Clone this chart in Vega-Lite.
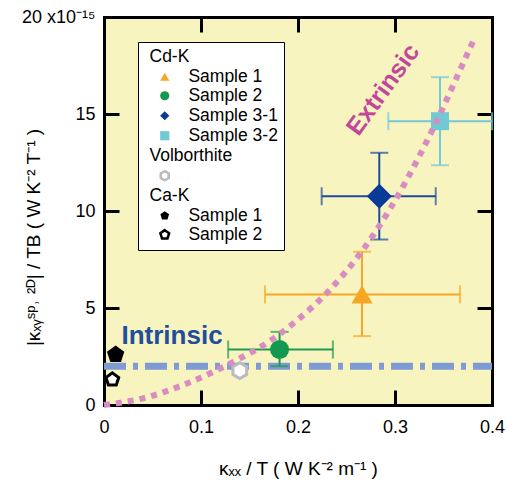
{
  "$schema": "https://vega.github.io/schema/vega-lite/v6.json",
  "width": 388,
  "height": 388,
  "autosize": "none",
  "padding": {"left": 104, "top": 17, "right": 14, "bottom": 83},
  "background": "white",
  "datasets": {
    "pts": [
      {"key": "c1", "x": 0.266, "y": 5.7, "xlo": 0.166, "xhi": 0.367, "ylo": 3.55, "yhi": 7.9},
      {"key": "c2", "x": 0.181, "y": 2.86, "xlo": 0.128, "xhi": 0.236, "ylo": 2.0, "yhi": 3.77},
      {"key": "c31", "x": 0.2838, "y": 10.76, "xlo": 0.2244, "xhi": 0.342, "ylo": 8.53, "yhi": 13.0},
      {"key": "c32", "x": 0.3464, "y": 14.63, "xlo": 0.2931, "xhi": 0.4, "ylo": 12.36, "yhi": 16.9},
      {"key": "v", "x": 0.140, "y": 1.77},
      {"key": "k1", "x": 0.012, "y": 2.6},
      {"key": "k2", "x": 0.0086, "y": 1.31}
    ],
    "curve": [
      {"x": 0.0, "y": 0.0},
      {"x": 0.042, "y": 0.37},
      {"x": 0.08, "y": 1.0},
      {"x": 0.109, "y": 1.62},
      {"x": 0.14, "y": 2.4},
      {"x": 0.168, "y": 3.2},
      {"x": 0.195, "y": 4.2},
      {"x": 0.233, "y": 5.95},
      {"x": 0.264, "y": 7.8},
      {"x": 0.2948, "y": 10.1},
      {"x": 0.3258, "y": 12.9},
      {"x": 0.3464, "y": 15.0},
      {"x": 0.3773, "y": 18.4},
      {"x": 0.381, "y": 18.8}
    ],
    "intr": [{"x": 0, "x2": 0.4, "y": 2.0}],
    "txt1": [{"label": "Intrinsic", "x": 0.018, "y": 3.15}],
    "txt2": [{"label": "Extrinsic", "x": 0.2876, "y": 16.26}]
  },
  "layer": [
    {
      "data": {"name": "intr"},
      "mark": {"type": "rule", "color": "#7f9bd3", "strokeWidth": 7, "strokeDash": [22, 7, 5, 7]},
      "encoding": {
        "x": {"field": "x", "type": "quantitative", "scale": {"domain": [0, 0.4], "nice": false, "zero": false},
          "axis": {"orient": "bottom", "values": [0, 0.1, 0.2, 0.3, 0.4], "labelExpr": "datum.value == 0 ? '0' : format(datum.value, '.1f')",
            "title": "κₓₓ / T    (  W K⁻² m⁻¹  )", "titleFontSize": 19, "labelPadding": 28, "titleY": 63, "titleBaseline": "middle"}},
        "x2": {"field": "x2"},
        "y": {"field": "y", "type": "quantitative", "scale": {"domain": [0, 20], "nice": false, "zero": false},
          "axis": {"orient": "left", "values": [0, 5, 10, 15, 20], "labelExpr": "datum.value == 20 ? '20 x10⁻¹⁵' : datum.label",
            "title": "|κₓᵧˢᵖ˒ ²ᴰ| / TB    (  W K⁻² T⁻¹  )", "titleFontSize": 19, "labelPadding": 24, "titleX": -71, "titleY": 220, "titleBaseline": "middle", "titleAlign": "center", "titleAngle": 270}}
      }
    },
    {
      "data": {"name": "pts"},
      "encoding": {
        "color": {"field": "key", "type": "nominal", "legend": null, "scale": {"domain": ["c1", "c2", "c31", "c32"], "range": ["#f6a623", "#1e9a50", "#1d4c9c", "#76c8d8"]}}
      },
      "layer": [
        {
          "mark": {"type": "rule", "strokeWidth": 2},
          "encoding": {
            "x": {"field": "xlo", "type": "quantitative", "axis": null},
            "x2": {"field": "xhi"},
            "y": {"field": "y", "type": "quantitative", "axis": null}
          }
        },
        {
          "mark": {"type": "rule", "strokeWidth": 2},
          "encoding": {
            "x": {"field": "x", "type": "quantitative", "axis": null},
            "y": {"field": "ylo", "type": "quantitative", "axis": null},
            "y2": {"field": "yhi"}
          }
        },
        {
          "mark": {"type": "tick", "orient": "vertical", "size": 18, "thickness": 2},
          "encoding": {
            "x": {"field": "xlo", "type": "quantitative", "axis": null},
            "y": {"field": "y", "type": "quantitative", "axis": null}
          }
        },
        {
          "mark": {"type": "tick", "orient": "vertical", "size": 18, "thickness": 2},
          "encoding": {
            "x": {"field": "xhi", "type": "quantitative", "axis": null},
            "y": {"field": "y", "type": "quantitative", "axis": null}
          }
        },
        {
          "mark": {"type": "tick", "orient": "horizontal", "size": 18, "thickness": 2},
          "encoding": {
            "x": {"field": "x", "type": "quantitative", "axis": null},
            "y": {"field": "ylo", "type": "quantitative", "axis": null}
          }
        },
        {
          "mark": {"type": "tick", "orient": "horizontal", "size": 18, "thickness": 2},
          "encoding": {
            "x": {"field": "x", "type": "quantitative", "axis": null},
            "y": {"field": "yhi", "type": "quantitative", "axis": null}
          }
        }
      ]
    },
    {
      "data": {"name": "pts"},
      "encoding": {
        "x": {"field": "x", "type": "quantitative", "axis": null},
        "y": {"field": "y", "type": "quantitative", "axis": null},
        "shape": {"field": "key", "type": "nominal",
          "scale": {"domain": ["h1", "c1", "c2", "c31", "c32", "h2", "v", "h3", "k1", "k2"],
            "range": ["circle", "triangle-up", "circle", "diamond", "square", "circle", "M0,-1L0.866,-0.5L0.866,0.5L0,1L-0.866,0.5L-0.866,-0.5Z", "circle", "M0,-1L0.951,-0.309L0.588,0.809L-0.588,0.809L-0.951,-0.309Z", "M0,-1L0.951,-0.309L0.588,0.809L-0.588,0.809L-0.951,-0.309Z"]},
          "legend": {"orient": "none", "legendX": 34, "legendY": 25, "title": null,
            "labelExpr": "datum.value == 'h1' ? 'Cd-K' : datum.value == 'c1' ? '\u200b\u00a0\u00a0\u00a0\u00a0\u00a0\u00a0\u00a0\u00a0Sample 1' : datum.value == 'c2' ? '\u200b\u00a0\u00a0\u00a0\u00a0\u00a0\u00a0\u00a0\u00a0Sample 2' : datum.value == 'c31' ? '\u200b\u00a0\u00a0\u00a0\u00a0\u00a0\u00a0\u00a0\u00a0Sample 3-1' : datum.value == 'c32' ? '\u200b\u00a0\u00a0\u00a0\u00a0\u00a0\u00a0\u00a0\u00a0Sample 3-2' : datum.value == 'h2' ? 'Volborthite' : datum.value == 'h3' ? 'Ca-K' : datum.value == 'k1' ? '\u200b\u00a0\u00a0\u00a0\u00a0\u00a0\u00a0\u00a0\u00a0Sample 1' : datum.value == 'k2' ? '\u200b\u00a0\u00a0\u00a0\u00a0\u00a0\u00a0\u00a0\u00a0Sample 2' : ''"}},
        "fill": {"field": "key", "type": "nominal",
          "scale": {"domain": ["h1", "c1", "c2", "c31", "c32", "h2", "v", "h3", "k1", "k2"],
            "range": ["transparent", "#f6a623", "#119a4f", "#073b97", "#72c9d6", "transparent", "white", "transparent", "black", "white"]},
          "legend": {"orient": "none", "legendX": 34, "legendY": 25, "title": null,
            "labelExpr": "datum.value == 'h1' ? 'Cd-K' : datum.value == 'c1' ? '\u200b\u00a0\u00a0\u00a0\u00a0\u00a0\u00a0\u00a0\u00a0Sample 1' : datum.value == 'c2' ? '\u200b\u00a0\u00a0\u00a0\u00a0\u00a0\u00a0\u00a0\u00a0Sample 2' : datum.value == 'c31' ? '\u200b\u00a0\u00a0\u00a0\u00a0\u00a0\u00a0\u00a0\u00a0Sample 3-1' : datum.value == 'c32' ? '\u200b\u00a0\u00a0\u00a0\u00a0\u00a0\u00a0\u00a0\u00a0Sample 3-2' : datum.value == 'h2' ? 'Volborthite' : datum.value == 'h3' ? 'Ca-K' : datum.value == 'k1' ? '\u200b\u00a0\u00a0\u00a0\u00a0\u00a0\u00a0\u00a0\u00a0Sample 1' : datum.value == 'k2' ? '\u200b\u00a0\u00a0\u00a0\u00a0\u00a0\u00a0\u00a0\u00a0Sample 2' : ''"}},
        "stroke": {"field": "key", "type": "nominal",
          "scale": {"domain": ["h1", "c1", "c2", "c31", "c32", "h2", "v", "h3", "k1", "k2"],
            "range": ["transparent", "transparent", "transparent", "transparent", "transparent", "transparent", "#bbbbbb", "transparent", "transparent", "black"]},
          "legend": {"orient": "none", "legendX": 34, "legendY": 25, "title": null,
            "labelExpr": "datum.value == 'h1' ? 'Cd-K' : datum.value == 'c1' ? '\u200b\u00a0\u00a0\u00a0\u00a0\u00a0\u00a0\u00a0\u00a0Sample 1' : datum.value == 'c2' ? '\u200b\u00a0\u00a0\u00a0\u00a0\u00a0\u00a0\u00a0\u00a0Sample 2' : datum.value == 'c31' ? '\u200b\u00a0\u00a0\u00a0\u00a0\u00a0\u00a0\u00a0\u00a0Sample 3-1' : datum.value == 'c32' ? '\u200b\u00a0\u00a0\u00a0\u00a0\u00a0\u00a0\u00a0\u00a0Sample 3-2' : datum.value == 'h2' ? 'Volborthite' : datum.value == 'h3' ? 'Ca-K' : datum.value == 'k1' ? '\u200b\u00a0\u00a0\u00a0\u00a0\u00a0\u00a0\u00a0\u00a0Sample 1' : datum.value == 'k2' ? '\u200b\u00a0\u00a0\u00a0\u00a0\u00a0\u00a0\u00a0\u00a0Sample 2' : ''"}}
      },
      "layer": [
        {"transform": [{"filter": "datum.key == 'c1'"}], "mark": {"type": "point", "filled": false, "opacity": 1, "strokeWidth": 3, "size": 441}},
        {"transform": [{"filter": "datum.key == 'c2'"}], "mark": {"type": "point", "filled": false, "opacity": 1, "strokeWidth": 3, "size": 361}},
        {"transform": [{"filter": "datum.key == 'c31'"}], "mark": {"type": "point", "filled": false, "opacity": 1, "strokeWidth": 3, "size": 625}},
        {"transform": [{"filter": "datum.key == 'c32'"}], "mark": {"type": "point", "filled": false, "opacity": 1, "strokeWidth": 3, "size": 324}},
        {"transform": [{"filter": "datum.key == 'v'"}], "mark": {"type": "point", "filled": false, "opacity": 1, "strokeWidth": 3, "size": 250}},
        {"transform": [{"filter": "datum.key == 'k1'"}], "mark": {"type": "point", "filled": false, "opacity": 1, "strokeWidth": 3, "size": 331}},
        {"transform": [{"filter": "datum.key == 'k2'"}], "mark": {"type": "point", "filled": false, "opacity": 1, "strokeWidth": 3, "size": 179}}
      ]
    },
    {
      "data": {"name": "curve"},
      "mark": {"type": "line", "color": "#d98cc2", "strokeWidth": 6, "strokeDash": [6, 6], "interpolate": "monotone"},
      "encoding": {
        "x": {"field": "x", "type": "quantitative", "axis": {"orient": "top", "values": [0.1, 0.2, 0.3], "labels": false, "title": null}},
        "y": {"field": "y", "type": "quantitative", "axis": {"orient": "right", "values": [5, 10, 15], "labels": false, "title": null}}
      }
    },
    {
      "data": {"name": "txt1"},
      "mark": {"type": "text", "align": "left", "baseline": "alphabetic", "fontSize": 26, "fontWeight": "bold", "color": "#1f4e9d"},
      "encoding": {
        "x": {"field": "x", "type": "quantitative", "axis": null},
        "y": {"field": "y", "type": "quantitative", "axis": null},
        "text": {"field": "label"}
      }
    },
    {
      "data": {"name": "txt2"},
      "mark": {"type": "text", "align": "center", "baseline": "middle", "fontSize": 25, "fontWeight": "bold", "color": "#c2479c", "angle": 306},
      "encoding": {
        "x": {"field": "x", "type": "quantitative", "axis": null},
        "y": {"field": "y", "type": "quantitative", "axis": null},
        "text": {"field": "label"}
      }
    }
  ],
  "resolve": {"axis": {"x": "independent", "y": "independent"}},
  "config": {
    "font": "Liberation Sans",
    "view": {"fill": "#f8f4c0", "stroke": null},
    "axis": {
      "domainColor": "black", "domainWidth": 3, "domainCap": "square", "tickColor": "black", "tickWidth": 3, "tickSize": -15,
      "grid": false, "labelFontSize": 18, "labelColor": "black", "labelFont": "Liberation Sans",
      "titleFontSize": 18, "titleFontWeight": "normal", "titleColor": "black", "titleFont": "Liberation Sans", "labelFlush": false, "labelOverlap": false
    },
    "legend": {
      "fillColor": "white", "strokeColor": "black",
      "padding": 6, "labelFontSize": 17.5, "labelFont": "Liberation Sans", "labelColor": "black", "symbolSize": 85, "symbolStrokeWidth": 2.5,
      "rowPadding": 0, "labelOffset": -24, "symbolOffset": 12, "labelLimit": 300
    }
  }
}
